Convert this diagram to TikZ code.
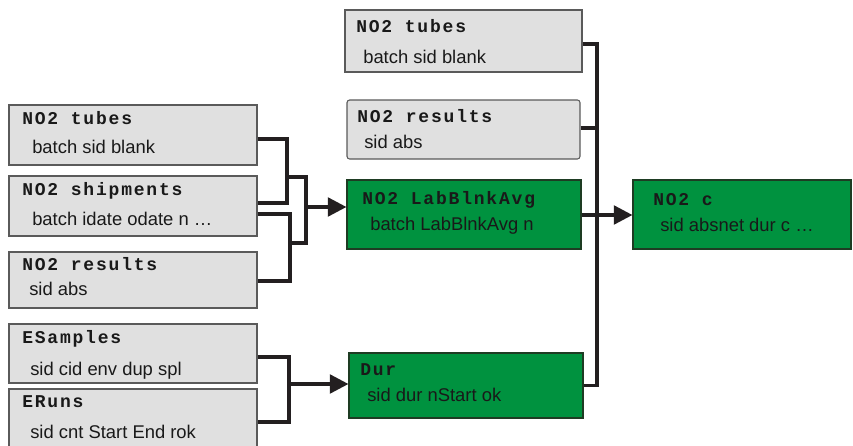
\documentclass[tikz,border=0pt]{standalone}
\usepackage{fontspec}
\setmainfont{Liberation Sans}
\newfontfamily\titlefont{Liberation Mono}[LetterSpace=10]
\usetikzlibrary{arrows.meta,fit}
\definecolor{boxgray}{RGB}{224,224,224}
\definecolor{boxgreen}{RGB}{0,146,63}
\definecolor{graybd}{RGB}{90,90,90}
\definecolor{greenbd}{RGB}{30,60,35}
\definecolor{linecol}{RGB}{35,31,32}
\definecolor{txt}{RGB}{25,25,25}
\begin{document}
\begin{tikzpicture}[x=0.75pt,y=-0.75pt,
  graybox/.style={draw=graybd, fill=boxgray, line width=0.8pt, inner sep=0pt},
  greenbox/.style={draw=greenbd, fill=boxgreen, line width=0.8pt, inner sep=0pt},
  ttl/.style={anchor=base west, inner sep=0pt, font=\titlefont\bfseries\fontsize{13.5}{16}\selectfont, text=txt},
  bdy/.style={anchor=base west, inner sep=0pt, font=\fontsize{13.8}{16}\selectfont, text=txt},
  conn/.style={draw=linecol, line width=2.6pt},
  arr/.style={conn, -{Triangle[length=14pt,width=14pt]}}]
\useasboundingbox (0,0) rectangle (853,446);
% left column
\node[graybox, fit={(9,105)(257,165)}] (lt) {};
\node[ttl] (ltT) at (22,124) {NO2 tubes};
\node[bdy] (ltB) at (32,153) {batch sid blank};
\node[graybox, fit={(9,176)(257,236)}] (ls) {};
\node[ttl] (lsT) at (22,195) {NO2 shipments};
\node[bdy] (lsB) at (32,225) {batch idate odate n \dots};
\node[graybox, fit={(9,252)(257,308)}] (lr) {};
\node[ttl] (lrT) at (22,270) {NO2 results};
\node[bdy] (lrB) at (29,295) {sid abs};
\node[graybox, fit={(9,324)(257,383)}] (es) {};
\node[ttl] (esT) at (22,343) {ESamples};
\node[bdy] (esB) at (30,375) {sid cid env dup spl};
\node[graybox, fit={(9,389)(257,452)}] (er) {};
\node[ttl] (erT) at (22,407) {ERuns};
\node[bdy] (erB) at (30,438) {sid cnt Start End rok};
% middle column
\node[graybox, fit={(345,10)(582,72)}] (mt) {};
\node[ttl] (mtT) at (356,32) {NO2 tubes};
\node[bdy] (mtB) at (363,63) {batch sid blank};
\node[graybox, rounded corners=2pt, fit={(347,100)(580,159)}] (mr) {};
\node[ttl] (mrT) at (357,122) {NO2 results};
\node[bdy] (mrB) at (364,148) {sid abs};
\node[greenbox, fit={(347,180)(581,249)}] (lb) {};
\node[ttl] (lbT) at (362,204) {NO2 LabBlnkAvg};
\node[bdy] (lbB) at (370,230) {batch LabBlnkAvg n};
\node[greenbox, fit={(349,353)(583,418)}] (du) {};
\node[ttl] (duT) at (360,375) {Dur};
\node[bdy] (duB) at (367,401) {sid dur nStart ok};
% right
\node[greenbox, fit={(633,180)(851,249)}] (nc) {};
\node[ttl] (ncT) at (653,205) {NO2 c};
\node[bdy] (ncB) at (660,231) {sid absnet dur c \dots};
% connectors: left brackets
\coordinate (j1) at (306,207);
\draw[conn] (lt.east |- 0,139) -| (287,171) |- (ls.east |- 0,203);
\draw[conn] (ls.east |- 0,214) -| (290,247) |- (lr.east |- 0,281);
\draw[conn] (287,177) -| (j1) |- (290,243);
\draw[arr] (j1) -- (lb.west |- j1);
% bottom bracket
\coordinate (j2) at (289,384);
\draw[conn] (es.east |- 0,357) -| (j2) |- (er.east |- 0,422);
\draw[arr] (j2) -- (du.west |- j2);
% right trunk
\coordinate (tr) at (597,44);
\draw[conn] (mt.east |- tr) -- (tr) -- (tr |- du.east) -- (du.east);
\draw[conn] (mr.east |- 0,128) -- (tr |- 0,128);
\draw[arr] (lb.east |- 0,215) -- (nc.west |- 0,215);
\end{tikzpicture}
\end{document}
